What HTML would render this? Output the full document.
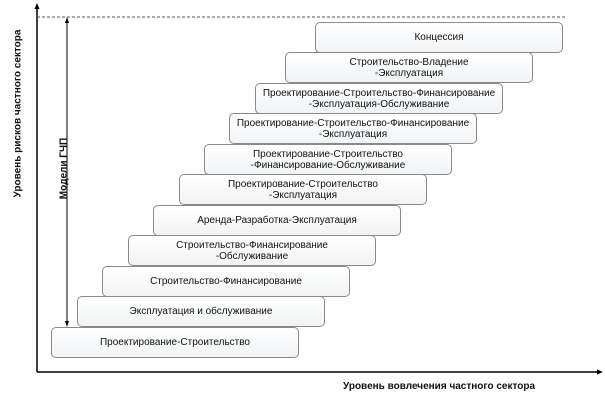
<!DOCTYPE html>
<html><head><meta charset="utf-8"><style>
body{margin:0;width:605px;height:400px;background:#fff;position:relative;overflow:hidden;font-family:"Liberation Sans",sans-serif}
.b{position:absolute;width:246px;height:29px;border:1px solid #8a8a8a;border-radius:5px;background:linear-gradient(#fff,#f1f3f5);font-size:10px;line-height:11px;color:#111;display:flex;align-items:center;justify-content:center;text-align:center;box-sizing:content-box}
.lbl{position:absolute;font-size:10px;font-weight:bold;color:#111;white-space:nowrap}
</style></head><body>
<svg width="605" height="400" style="position:absolute;left:0;top:0">
<line x1="37" y1="372" x2="37" y2="8" stroke="#000" stroke-width="1.5"/>
<polygon points="37,3 34.5,9 39.5,9" fill="#000"/>
<line x1="37" y1="372" x2="598" y2="372" stroke="#000" stroke-width="1.5"/>
<polygon points="603,372 597,369.5 597,374.5" fill="#000"/>
<line x1="37" y1="17" x2="566" y2="17" stroke="#555" stroke-dasharray="3,2"/>
<line x1="67" y1="22" x2="67" y2="322" stroke="#000"/>
<polygon points="67,17 65,23 69,23" fill="#000"/>
<polygon points="67,327 65,321 69,321" fill="#000"/>
</svg>
<div class="lbl" style="left:-82px;top:108px;transform:rotate(-90deg);width:200px;text-align:center">Уровень рисков частного сектора</div>
<div class="lbl" style="left:24px;top:163px;transform:rotate(-90deg);width:80px;text-align:center">Модели ГЧП</div>
<div class="lbl" style="left:343px;top:381px">Уровень вовлечения частного сектора</div>
<div class="b" style="left:315px;top:22px">Концессия</div>
<div class="b" style="left:285px;top:52px">Строительство-Владение<br>-Эксплуатация</div>
<div class="b" style="left:255px;top:83px">Проектирование-Строительство-Финансирование<br>-Эксплуатация-Обслуживание</div>
<div class="b" style="left:229px;top:113px">Проектирование-Строительство-Финансирование<br>-Эксплуатация</div>
<div class="b" style="left:204px;top:144px">Проектирование-Строительство<br>-Финансирование-Обслуживание</div>
<div class="b" style="left:179px;top:174px">Проектирование-Строительство<br>-Эксплуатация</div>
<div class="b" style="left:153px;top:205px">Аренда-Разработка-Эксплуатация</div>
<div class="b" style="left:128px;top:235px">Строительство-Финансирование<br>-Обслуживание</div>
<div class="b" style="left:102px;top:266px">Строительство-Финансирование</div>
<div class="b" style="left:77px;top:296px">Эксплуатация и обслуживание</div>
<div class="b" style="left:51px;top:327px">Проектирование-Строительство</div>
</body></html>
